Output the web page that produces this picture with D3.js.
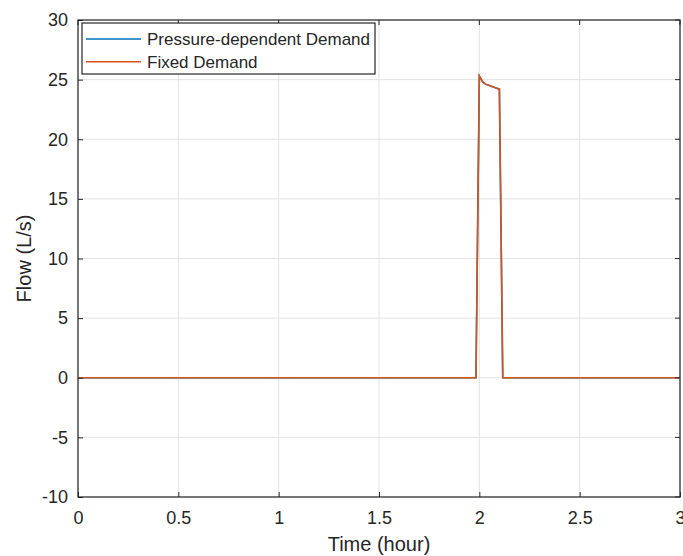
<!DOCTYPE html>
<html><head><meta charset="utf-8">
<script src="https://cdn.jsdelivr.net/npm/d3@7"></script>
<style>body{margin:0;background:#fff}svg{display:block}text{font-family:"Liberation Sans",Arial,sans-serif;fill:#262626}</style>
</head><body><svg id="c" width="683" height="556"></svg>
<script>
const timeHours = [0, 1.9833, 2.0, 2.0167, 2.0333, 2.05, 2.0667, 2.0833, 2.1, 2.1167, 3.0];
const pressureDependent = [0, 0, 25.3, 24.8, 24.6, 24.5, 24.4, 24.3, 24.2, 0, 0];
const fixedDemand = [0, 0, 25.3, 24.8, 24.6, 24.5, 24.4, 24.3, 24.2, 0, 0];
const xTicks = [0, 0.5, 1, 1.5, 2, 2.5, 3];
const yTicks = [-10, -5, 0, 5, 10, 15, 20, 25, 30];
const seriesNames = ["Pressure-dependent Demand", "Fixed Demand"];
const seriesColors = ["#0072BD", "#D95319"];

const svg = d3.select("#c");
const m = {l:78, r:680, t:20, b:497};
const x = d3.scaleLinear().domain([0,3]).range([m.l, m.r]);
const y = d3.scaleLinear().domain([-10,30]).range([m.b, m.t]);

// grid
const g = svg.append("g");
g.selectAll(".gx").data(xTicks).join("line").attr("x1",d=>x(d)).attr("x2",d=>x(d)).attr("y1",m.t).attr("y2",m.b).attr("stroke","#e3e3e3").attr("stroke-width",1);
g.selectAll(".gy").data(yTicks).join("line").attr("y1",d=>y(d)).attr("y2",d=>y(d)).attr("x1",m.l).attr("x2",m.r).attr("stroke","#e3e3e3").attr("stroke-width",1);

// lines
const series = [pressureDependent, fixedDemand];
series.forEach((s,i)=>{
  const line = d3.line().x((d,j)=>x(timeHours[j])).y(d=>y(d));
  svg.append("path").datum(s).attr("d",line).attr("fill","none").attr("stroke",seriesColors[i]).attr("stroke-width",1.6);
});

// axes
const fmt = d=>String(d);
const ax = svg.append("g").attr("transform",`translate(0,${m.b})`).call(d3.axisBottom(x).tickValues(xTicks).tickSize(-5).tickPadding(14).tickFormat(fmt));
const ay = svg.append("g").attr("transform",`translate(${m.l},0)`).call(d3.axisLeft(y).tickValues(yTicks).tickSize(-5).tickPadding(10).tickFormat(fmt));
[ax,ay].forEach(a=>{a.select(".domain").remove();a.selectAll("line").attr("stroke","#262626");a.selectAll("text").style("font-size","18px").style("font-family","'Liberation Sans',Arial,sans-serif").attr("fill","#262626");});
// top/right ticks
svg.selectAll(".tt").data(xTicks).join("line").attr("x1",d=>x(d)).attr("x2",d=>x(d)).attr("y1",m.t).attr("y2",m.t+5).attr("stroke","#262626");
svg.selectAll(".tr").data(yTicks).join("line").attr("y1",d=>y(d)).attr("y2",d=>y(d)).attr("x1",m.r).attr("x2",m.r-5).attr("stroke","#262626");
svg.append("rect").attr("x",m.l).attr("y",m.t).attr("width",m.r-m.l).attr("height",m.b-m.t).attr("fill","none").attr("stroke","#262626").attr("stroke-width",1.2);

// labels
svg.append("text").attr("x",(m.l+m.r)/2).attr("y",551).attr("text-anchor","middle").style("font-size","20px").text("Time (hour)");
svg.append("text").attr("transform",`translate(31,${(m.t+m.b)/2}) rotate(-90)`).attr("text-anchor","middle").style("font-size","20px").text("Flow (L/s)");

// legend
const lg = svg.append("g");
lg.append("rect").attr("x",82).attr("y",23).attr("width",293).attr("height",51).attr("fill","#fff").attr("stroke","#262626").attr("stroke-width",1.2);
seriesNames.forEach((n,i)=>{
  const yy = 39 + i*22.7;
  lg.append("line").attr("x1",86).attr("x2",141).attr("y1",yy).attr("y2",yy).attr("stroke",seriesColors[i]).attr("stroke-width",1.6);
  lg.append("text").attr("x",147).attr("y",yy+6).style("font-size","17px").text(n);
});
</script></body></html>
